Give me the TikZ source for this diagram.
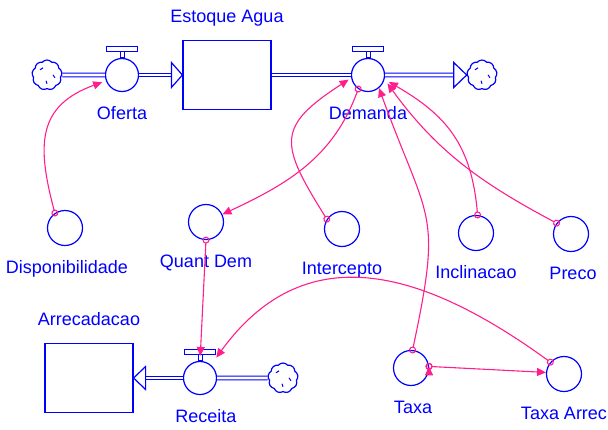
\documentclass[tikz,border=0pt]{standalone}
\usepackage{fontspec}
\setmainfont{Liberation Sans}
\usetikzlibrary{positioning,arrows.meta,shapes.symbols}
\definecolor{sblue}{RGB}{0,0,255}
\definecolor{spink}{RGB}{255,30,140}

\begin{document}
\begin{tikzpicture}
                [x=1pt,y=1pt,node distance=14pt,
                stock/.style={rectangle,draw=sblue,line width=1.2pt,minimum width=88pt,minimum height=69pt},
                valve/.style={circle,draw=sblue,line width=1.2pt,minimum size=33pt,inner sep=0pt},
                conv/.style={circle,draw=sblue,line width=1.2pt,minimum size=35pt,inner sep=0pt},
                sink/.style={cloud,cloud puffs=9,cloud puff arc=100,aspect=1,draw=sblue,line width=1.2pt,
                    minimum width=30pt,minimum height=30pt,inner sep=0pt,
                    path picture={\draw[sblue,line width=1pt] (path picture bounding box.center)
                        +(-7pt,5pt) -- +(-4pt,7pt) +(6pt,0pt) -- +(8pt,-3pt)
                        +(-1pt,-6pt) -- +(0pt,-9pt);}},
                lbl/.style={text=sblue,font=\fontsize{18}{20}\selectfont,inner sep=0pt,text height=13pt,text depth=3pt},
                pipe/.style={draw=sblue,line width=1.1pt,double=white,double distance=2.6pt},
                tip/.style={draw=sblue,line width=1.2pt,fill=white},
                handle/.style={draw=sblue,line width=1pt,fill=white},
                link/.style={draw=spink,line width=1.1pt,{Circle[open,length=7pt,width=7pt]}-{Triangle[length=9pt,width=8pt]},shorten <=-3.5pt}]
                \useasboundingbox (0,0) rectangle (608,-429);
                % top flow
                \node[sink] (srcofe) at (47,-75) {};
                \node[valve] (ofe) at (122,-75) {};
                \node[lbl] (ofelbl)[below=of ofe]{Oferta};
                \node[stock] (est) at (227,-75) {};
                \node[lbl] (estlbl)[above=of est]{Estoque Agua};
                \node[valve] (dem) at (368,-75) {};
                \node[lbl] (demlbl)[below=of dem]{Demanda};
                \node[sink] (snkdem) at (482,-75) {};
                % converters
                \node[conv] (dis) at (65,-228) {};
                \node[lbl,xshift=2pt] (dislbl)[below=of dis]{Disponibilidade};
                \node[conv] (qd) at (206,-222) {};
                \node[lbl] (qdlbl)[below=of qd]{Quant Dem};
                \node[conv] (int) at (342,-229) {};
                \node[lbl] (intlbl)[below=of int]{Intercepto};
                \node[conv] (incl) at (476,-233) {};
                \node[lbl] (incllbl)[below=of incl]{Inclinacao};
                \node[conv] (pre) at (571,-234) {};
                \node[lbl,xshift=2pt] (prelbl)[below=of pre]{Preco};
                % bottom flow
                \node[stock] (arr) at (89,-378) {};
                \node[lbl] (arrlbl)[above=of arr]{Arrecadacao};
                \node[valve] (rec) at (200,-378) {};
                \node[lbl,xshift=6pt] (reclbl)[below=of rec]{Receita};
                \node[sink] (srcrec) at (283,-378) {};
                \node[conv] (tax) at (411,-368) {};
                \node[lbl,xshift=2pt] (taxlbl)[below=of tax]{Taxa};
                \node[conv] (tar) at (564,-374) {};
                \node[lbl] (tarlbl)[below=of tar]{Taxa Arrec};
                % pipes
                \draw[pipe] (srcofe) -- (ofe);
                \draw[pipe,shorten >=11pt] (ofe) -- (est.west);
                \draw[pipe] (est.east) -- (dem);
                \draw[pipe,shorten >=13pt] (dem) -- (snkdem.west);
                \draw[pipe] (srcrec) -- (rec);
                \draw[pipe,shorten >=12pt] (rec) -- (arr.east);
                \draw[tip] (est.west) -- ++(-11,12.5) -- ++(0,-25) -- cycle;
                \draw[tip] (snkdem.west) -- ++(-13,12.5) -- ++(0,-25) -- cycle;
                \draw[tip] (arr.east) -- ++(12,11.5) -- ++(0,-23) -- cycle;
                % valve handles
                \draw[handle] ([xshift=-2pt]ofe.north) rectangle ([xshift=2pt,yshift=6pt]ofe.north)
                    ([xshift=-15.5pt,yshift=6pt]ofe.north) rectangle ([xshift=15.5pt,yshift=11pt]ofe.north);
                \draw[handle] ([xshift=-2pt]dem.north) rectangle ([xshift=2pt,yshift=6pt]dem.north)
                    ([xshift=-15.5pt,yshift=6pt]dem.north) rectangle ([xshift=15.5pt,yshift=11pt]dem.north);
                \draw[handle] ([xshift=-2pt]rec.north) rectangle ([xshift=2pt,yshift=6pt]rec.north)
                    ([xshift=-15.5pt,yshift=6pt]rec.north) rectangle ([xshift=15.5pt,yshift=11pt]rec.north);
                % connectors
                \path[link] (dis.124) edge[link,out=105,in=200,looseness=1.3,shorten >=4pt] (ofe.200)
                            (dem.235) edge[link,out=250,in=25] (qd.25)
                            (int.147) edge[link,out=122,in=213,looseness=1.6,shorten >=3pt] (dem.190)
                            (tax.85) edge[link,out=78,in=290,looseness=1.4] (dem.310)
                            (incl.85) edge[link,out=95,in=330,looseness=1.1,shorten >=5pt] (dem.345)
                            (pre.143) edge[link,out=152,in=306,shorten >=5pt] (dem.345)
                            (qd.270) edge[link,shorten >=5pt] (rec.north)
                            (tar.139) edge[link,out=144,in=54,looseness=1.2,shorten >=9pt] (rec.50)
                            (tax.5) edge[link] (tar.175);
            \end{tikzpicture}
\end{document}
